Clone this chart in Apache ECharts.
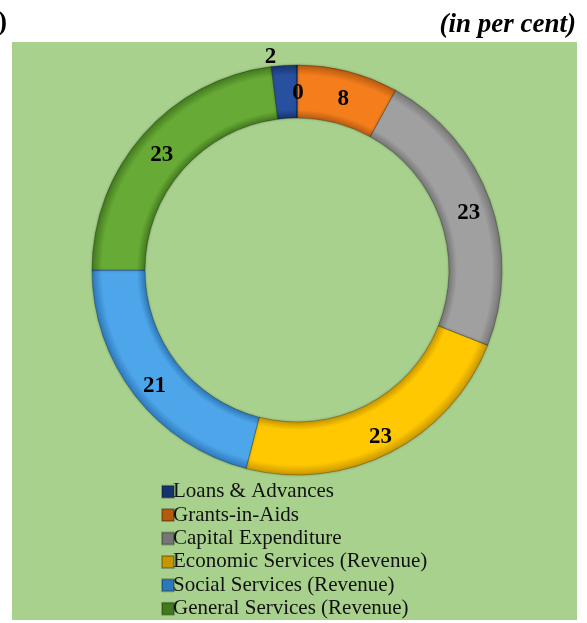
<!DOCTYPE html>
<html lang="en">
<head>
    <meta charset="UTF-8">
    <script src="https://cdn.jsdelivr.net/npm/echarts@6/dist/echarts.min.js"></script>
    <title>Expenditure share</title>
    <style>
        body { margin: 0; background: #fff; }
    </style>
</head>
<body>
<div id="main" style="width: 587px;height:623px;"></div>

<script>
    // data, clockwise from 12 o'clock
    var categories = ['Grants-in-Aids', 'Capital Expenditure', 'Economic Services (Revenue)',
        'Social Services (Revenue)', 'General Services (Revenue)', 'Loans & Advances'];
    var values = [8, 23, 23, 21, 23, 2];
    var legendOrder = ['Loans & Advances', 'Grants-in-Aids', 'Capital Expenditure',
        'Economic Services (Revenue)', 'Social Services (Revenue)', 'General Services (Revenue)'];
    var colors = ['#f47e1c', '#a0a0a0', '#ffc800', '#4ea6ea', '#68aa36', '#27509e'];
    var darkColors = ['#b65a10', '#767676', '#c89600', '#2d78b8', '#427a1e', '#17336e'];

    var cx = 297, cy = 270, r0 = 152, r1 = 205;

    function bevel(i) {
        return {
            type: 'radial', x: cx, y: cy, r: r1, global: true,
            colorStops: [
                {offset: 0, color: darkColors[i]},
                {offset: r0 / r1, color: darkColors[i]},
                {offset: r0 / r1 + 0.04, color: colors[i]},
                {offset: 0.95, color: colors[i]},
                {offset: 1, color: darkColors[i]}
            ]
        };
    }

    var pieData = categories.map(function (name, i) {
        var item = {name: name, value: values[i], itemStyle: {color: bevel(i)}};
        if (name === 'Loans & Advances') {
            item.label = {offset: [-15, -32]};
        }
        return item;
    });
    // empty slice at the top carrying the "0" label
    pieData.push({name: '', value: 0, itemStyle: {color: colors[5]}});

    var myChart = echarts.init(document.getElementById('main'));
    var option = {
        color: colors,
        animation: false,
        title: [{
            text: '(in per cent)',
            right: 6, top: 7,
            textStyle: {fontFamily: 'Liberation Serif', fontStyle: 'italic', fontWeight: 'bold', fontSize: 27, color: '#000'}
        }, {
            text: ')',
            left: -7, top: 5,
            textStyle: {fontFamily: 'Liberation Serif', fontWeight: 'bold', fontSize: 27, color: '#000'}
        }],
        graphic: [{
            type: 'rect', z: -10,
            shape: {x: 12, y: 42, width: 565, height: 578},
            style: {fill: '#a9d18e'}
        }],
        legend: {
            orient: 'vertical',
            left: 156, top: 475, height: 150,
            itemWidth: 12, itemHeight: 12, itemGap: 0,
            icon: 'rect',
            data: legendOrder,
            textStyle: {fontFamily: 'Liberation Serif', fontSize: 21, lineHeight: 23.4, color: '#111', padding: [0, 0, 0, -6]}
        },
        series: [{
            type: 'pie',
            center: [cx, cy],
            radius: [r0, r1],
            startAngle: 90,
            clockwise: true,
            avoidLabelOverlap: false,
            stillShowZeroSum: true,
            label: {
                show: true,
                position: 'inside',
                formatter: '{c}',
                offset: [1, 5],
                fontFamily: 'Liberation Serif',
                fontWeight: 'bold',
                fontSize: 23,
                color: '#000'
            },
            labelLine: {show: false},
            itemStyle: {
                borderColor: 'rgba(0,0,0,0.25)',
                borderWidth: 1,
                shadowColor: 'rgba(0,0,0,0.25)',
                shadowBlur: 3
            },
            emphasis: {disabled: true},
            data: pieData
        }]
    };
    myChart.setOption(option);
</script>
</body>
</html>
